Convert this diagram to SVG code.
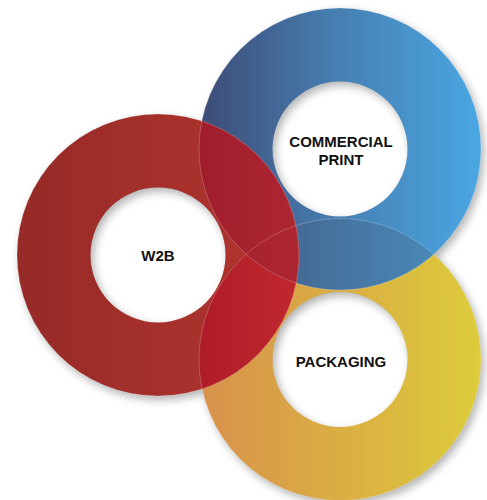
<svg xmlns="http://www.w3.org/2000/svg" width="487" height="500" viewBox="0 0 487 500">
<style>
.lbl{font-family:"Liberation Sans",Arial,sans-serif;font-weight:bold;font-size:15px;fill:#111;text-anchor:middle}
.edge{fill:none;stroke:#fff;stroke-opacity:0.35;stroke-width:0.6}
</style>
<defs>
<path id="ringBlue" fill-rule="evenodd" d="M199,149 a141,141 0 1,0 282,0 a141,141 0 1,0 -282,0 Z M272.5,149 a67.5,67.5 0 1,0 135,0 a67.5,67.5 0 1,0 -135,0 Z"/>
<path id="ringRed" fill-rule="evenodd" d="M17,255 a141,141 0 1,0 282,0 a141,141 0 1,0 -282,0 Z M90.5,255 a67.5,67.5 0 1,0 135,0 a67.5,67.5 0 1,0 -135,0 Z"/>
<path id="ringYellow" fill-rule="evenodd" d="M199,359.5 a141,141 0 1,0 282,0 a141,141 0 1,0 -282,0 Z M272.5,359.5 a67.5,67.5 0 1,0 135,0 a67.5,67.5 0 1,0 -135,0 Z"/>
<clipPath id="clipBlue"><path clip-rule="evenodd" d="M199,149 a141,141 0 1,0 282,0 a141,141 0 1,0 -282,0 Z M272.5,149 a67.5,67.5 0 1,0 135,0 a67.5,67.5 0 1,0 -135,0 Z"/></clipPath>
<clipPath id="clipYellow"><path clip-rule="evenodd" d="M199,359.5 a141,141 0 1,0 282,0 a141,141 0 1,0 -282,0 Z M272.5,359.5 a67.5,67.5 0 1,0 135,0 a67.5,67.5 0 1,0 -135,0 Z"/></clipPath>
<linearGradient id="gBlue" gradientUnits="userSpaceOnUse" x1="199" y1="0" x2="481" y2="0"><stop offset="0" stop-color="#3d4b75"/><stop offset="0.5" stop-color="#4680b3"/><stop offset="1" stop-color="#4aa7e3"/></linearGradient>
<linearGradient id="gRed" gradientUnits="userSpaceOnUse" x1="17" y1="0" x2="299" y2="0"><stop offset="0" stop-color="#952a27"/><stop offset="1" stop-color="#b4352f"/></linearGradient>
<linearGradient id="gYellow" gradientUnits="userSpaceOnUse" x1="199" y1="0" x2="481" y2="0"><stop offset="0" stop-color="#d8904c"/><stop offset="1" stop-color="#ddcc3b"/></linearGradient>
<linearGradient id="gBY" gradientUnits="userSpaceOnUse" x1="199" y1="0" x2="481" y2="0"><stop offset="0" stop-color="#41557d"/><stop offset="1" stop-color="#4b92c4"/></linearGradient>
<linearGradient id="gRB" gradientUnits="userSpaceOnUse" x1="199" y1="0" x2="299" y2="0"><stop offset="0" stop-color="#a01d2c"/><stop offset="1" stop-color="#ad2732"/></linearGradient>
<linearGradient id="gRY" gradientUnits="userSpaceOnUse" x1="199" y1="0" x2="299" y2="0"><stop offset="0" stop-color="#ae1c29"/><stop offset="1" stop-color="#c0282d"/></linearGradient>
<filter id="shadow" x="-20%" y="-20%" width="140%" height="140%">
<feGaussianBlur in="SourceAlpha" stdDeviation="4"/>
<feOffset dx="3" dy="4" result="b"/>
<feFlood flood-color="#000" flood-opacity="0.3"/>
<feComposite in2="b" operator="in"/>
</filter>
</defs>
<rect width="487" height="500" fill="#fff"/>
<g id="shadows" filter="url(#shadow)">
<use href="#ringYellow"/><use href="#ringBlue"/><use href="#ringRed"/>
</g>
<g id="node-packaging">
<use href="#ringYellow" fill="url(#gYellow)"/>
<text class="lbl" x="341" y="367">PACKAGING</text>
</g>
<g id="node-commercial-print">
<use href="#ringBlue" fill="url(#gBlue)"/>
<text class="lbl" x="341" y="146.5">COMMERCIAL</text>
<text class="lbl" x="341" y="165">PRINT</text>
</g>
<g id="node-w2b">
<use href="#ringRed" fill="url(#gRed)"/>
<text class="lbl" x="158" y="261">W2B</text>
</g>
<g id="overlaps">
<use href="#ringYellow" fill="url(#gBY)" clip-path="url(#clipBlue)"/>
<use href="#ringRed" fill="url(#gRY)" clip-path="url(#clipYellow)"/>
<use href="#ringRed" fill="url(#gRB)" clip-path="url(#clipBlue)"/>
</g>
<g id="connectors">
<circle class="edge" cx="340" cy="149" r="141"/>
<circle class="edge" cx="158" cy="255" r="141"/>
<circle class="edge" cx="340" cy="359.5" r="141"/>
</g>
</svg>
